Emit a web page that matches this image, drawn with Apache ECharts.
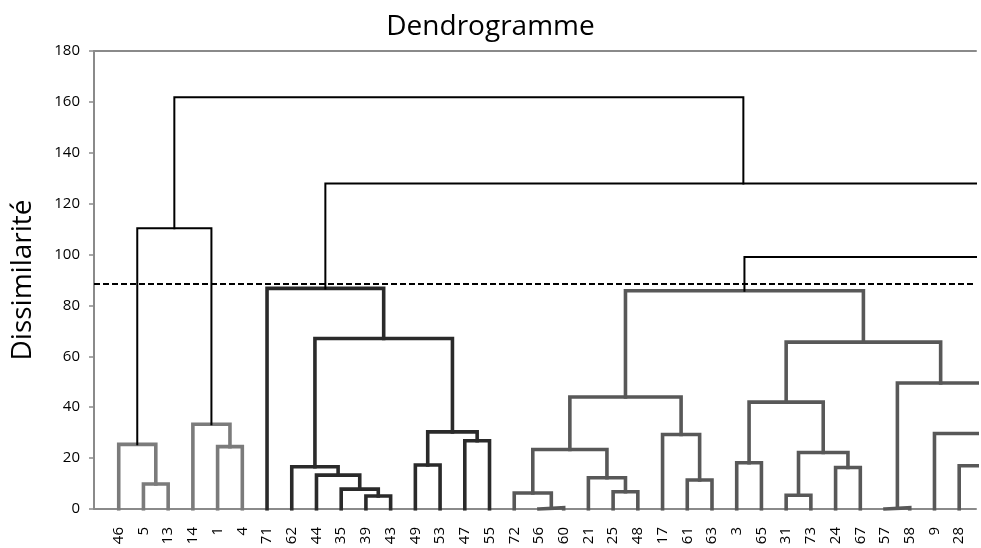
<!DOCTYPE html>
<html>
<head>
<meta charset="utf-8">
<script src="https://cdn.jsdelivr.net/npm/echarts@6/dist/echarts.min.js"></script>
<style>
html,body{margin:0;padding:0;background:#fff;}
#chart{width:981px;height:548px;}
</style>
</head>
<body>
<div id="chart"></div>
<script>
// Leaves, left to right (visible part of the dendrogram)
const leafLabels = ['46','5','13','14','1','4','71','62','44','35','39','43','49','53','47','55','72','56','60','21','25','48','17','61','63','3','65','31','73','24','67','57','58','9','28'];

// Merges: left child, right child, height (dissimilarity). 'Nk' = merge k, 'Hk' = branch hidden beyond the right edge
const mergeLeft  = ['5','46','1','14','N1','39','35','44','62','49','47','N9','N8','71','56','72','25','21','N15','61','17','N18','3','31','24','N23','N22','57','28','9','N27','N26','N21','N32','N33','N13','N4'];
const mergeRight = ['13','N0','4','N2','N3','43','N5','N6','N7','53','55','N10','N11','N12','60','N14','48','N16','N17','63','N19','N20','65','73','67','N24','N25','58','H0','N28','N29','N30','N31','H1','H2','N34','N35'];
const mergeHeight = [9.8,25.4,24.5,33.3,110.3,5.1,7.8,13.3,16.6,17.3,26.8,30.3,67.0,86.7,0.5,6.3,6.8,12.3,23.4,11.4,29.3,44.0,18.2,5.4,16.3,22.2,42.0,0.5,17.0,29.7,49.5,65.6,85.8,99.0,115,127.9,161.8];

// Branches continuing beyond the cropped right edge (position in leaf units, height)
const hiddenPos = [41, 46, 50.2];
const hiddenHeight = [8, 70, 80];

const cutHeight = 88.5;
const clusterColors = ['#7b7b7b','#7b7b7b','#2a2a2a','#585858','#585858'];
const yTicks = [0,20,40,60,80,100,120,140,160,180];

// ---- build geometry in data units ----
const nodeX = [], nodeH = [];
function pos(ref){
  if (ref[0]==='N') return nodeX[+ref.slice(1)];
  if (ref[0]==='H') return hiddenPos[+ref.slice(1)];
  return leafLabels.indexOf(ref) + 1;
}
function hgt(ref){
  if (ref[0]==='N') return nodeH[+ref.slice(1)];
  if (ref[0]==='H') return hiddenHeight[+ref.slice(1)];
  return 0;
}
const parentOf = [];
for (let k=0;k<mergeHeight.length;k++){
  nodeX[k] = (pos(mergeLeft[k]) + pos(mergeRight[k]))/2;
  nodeH[k] = mergeHeight[k];
  [mergeLeft[k], mergeRight[k]].forEach(r => { if (r[0]==='N') parentOf[+r.slice(1)] = k; });
}
// cluster roots: below the cut, parent above the cut
const roots = [];
for (let k=0;k<mergeHeight.length;k++){
  if (nodeH[k] < cutHeight && (parentOf[k]===undefined || nodeH[parentOf[k]] >= cutHeight)) roots.push(k);
}
roots.sort((a,b)=>nodeX[a]-nodeX[b]);
function clusterOf(k){
  while (!roots.includes(k)) k = parentOf[k];
  return roots.indexOf(k);
}

const series = [];
for (let k=0;k<mergeHeight.length;k++){
  const a = mergeLeft[k], b = mergeRight[k], h = nodeH[k];
  const below = h < cutHeight;
  const color = below ? clusterColors[clusterOf(k)] : '#000';
  series.push({
    type:'line', silent:true, showSymbol:false, symbol:'none', clip:true,
    data:[[pos(a),hgt(a)],[pos(a),h],[pos(b),h],[pos(b),hgt(b)]],
    lineStyle:{color:color, width: below ? 3.6 : 2, cap:'square', join:'miter'},
    z: below ? 3 : 4
  });
}
series[0].markLine = {
  silent:true, symbol:'none', animation:false,
  label:{show:false},
  lineStyle:{color:'#000', width:2.2, type:[6,3]},
  data:[{yAxis: cutHeight}]
};

const xMax = 35.68;
const chart = echarts.init(document.getElementById('chart'), null, {renderer:'canvas'});
chart.setOption({
  animation:false,
  backgroundColor:'#fff',
  title:{text:'Dendrogramme', left:'center', top:8,
    textStyle:{fontFamily:'Open Sans', fontSize:28, fontWeight:'normal', color:'#000'}},
  grid:{left:94, right:5, top:51, bottom:39},
  xAxis:[{
    type:'value', min:0, max:xMax, interval:1,
    axisLine:{show:true, onZero:false, lineStyle:{color:'#8a8a8a', width:2}},
    axisTick:{show:false}, splitLine:{show:false},
    axisLabel:{rotate:90, margin:18, fontSize:15, fontFamily:'Open Sans', color:'#000',
      showMinLabel:false, showMaxLabel:false,
      formatter:v => (Number.isInteger(v) && v>=1 && v<=leafLabels.length) ? leafLabels[v-1] : ''}
  },{
    type:'value', position:'top', min:0, max:xMax,
    axisLine:{show:true, onZero:false, lineStyle:{color:'#8a8a8a', width:2}},
    axisTick:{show:false}, axisLabel:{show:false}, splitLine:{show:false}
  }],
  yAxis:{
    type:'value', min:yTicks[0], max:yTicks[yTicks.length-1], interval:20,
    name:'Dissimilarité', nameLocation:'middle', nameGap:57, nameRotate:90,
    nameTextStyle:{fontFamily:'Open Sans', fontSize:28, color:'#000', padding:[0,0,0,0]},
    axisLine:{show:true, onZero:false, lineStyle:{color:'#8a8a8a', width:2}},
    axisTick:{show:true, length:5, lineStyle:{color:'#8a8a8a', width:1.5}},
    splitLine:{show:false},
    axisLabel:{fontSize:15, margin:14, color:'#000', fontFamily:'Open Sans'}
  },
  series:series
});
</script>
</body>
</html>
